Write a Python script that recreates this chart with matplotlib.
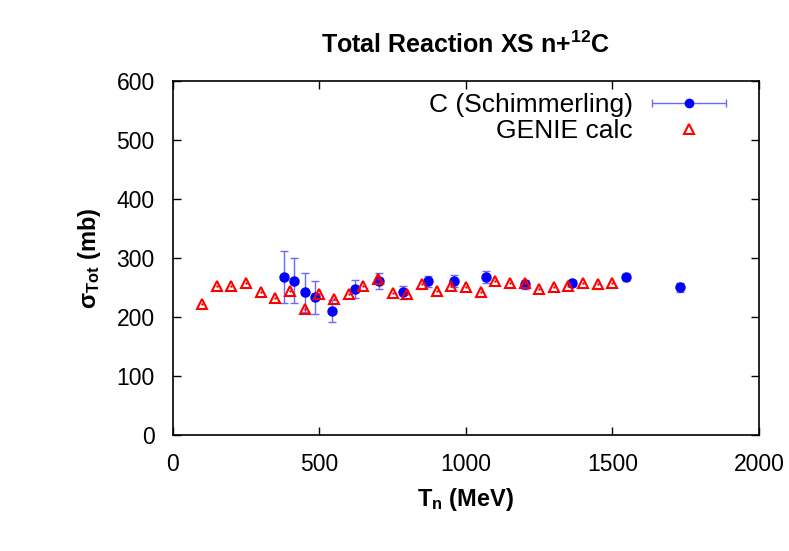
import numpy as np
import matplotlib
matplotlib.use('Agg')
from matplotlib import pyplot as plt
from matplotlib.legend_handler import HandlerErrorbar

plt.rcParams['font.family'] = ['Liberation Sans', 'DejaVu Sans']
plt.rcParams['mathtext.fontset'] = 'custom'
plt.rcParams['mathtext.rm'] = 'Liberation Sans'
plt.rcParams['mathtext.bf'] = 'Liberation Sans:bold'
plt.rcParams['mathtext.it'] = 'Liberation Sans:italic'

# Schimmerling data
data_T = [380, 414, 450, 486, 544, 623, 703, 786, 872, 958, 1069, 1200, 1361, 1545, 1730]
data_xs = [268, 261, 242, 233, 210, 247, 261, 242, 260, 261, 268, 255, 258, 268, 250]
data_err = [44, 38, 33, 28, 18, 15, 13, 11, 9, 10, 10, 8, 5, 5, 7]

# GENIE calculation
genie_T = [100, 150, 200, 250, 300, 350, 400, 450, 500, 550, 600, 650, 700, 750, 800,
           850, 900, 950, 1000, 1050, 1100, 1150, 1200, 1250, 1300, 1350, 1400, 1450, 1500]
genie_xs = [222, 253, 253, 257, 243, 232, 244, 213, 239, 231, 238, 252, 264, 241, 239,
            255, 244, 253, 251, 243, 261, 258, 257, 248, 251, 252, 258, 255, 258]

fig = plt.figure(figsize=(7.89, 5.51), dpi=100)
ax = fig.add_axes([0.219, 0.2105, 0.743, 0.643])

err_color = '#6a6aff'
ax.errorbar(data_T, data_xs, yerr=data_err, fmt='o', color='#0000ff', markersize=6.5,
            ecolor=err_color, elinewidth=1, capsize=3, capthick=1, zorder=3)
# dummy handle so the key shows a horizontal error bar like the original
h_data = ax.errorbar([np.nan], [np.nan], xerr=[1], fmt='o', color='#0000ff', markersize=6,
                     ecolor=err_color, elinewidth=1, capsize=3, capthick=1)

h_genie, = ax.plot(genie_T, genie_xs, linestyle='none', marker='^', markersize=7.5,
                   markerfacecolor='none', markeredgecolor='#ff0000', markeredgewidth=1.5,
                   zorder=4)
ax.plot(genie_T, genie_xs, linestyle='none', marker='.', markersize=1.5,
        color='#ff0000', zorder=4)

ax.set_xlim(0, 2000)
ax.set_ylim(0, 600)
ax.set_xticks([0, 500, 1000, 1500, 2000])
ax.set_yticks([0, 100, 200, 300, 400, 500, 600])
ax.tick_params(direction='in', length=6, width=1, top=True, right=True,
               labelsize=16.5, pad=13)
for s in ax.spines.values():
    s.set_linewidth(1.2)

ax.set_title('Total Reaction XS n+$^{\\mathbf{12}}$C', fontsize=18, fontweight='bold', pad=20)
ax.set_xlabel('T$_{\\mathbf{n}}$ (MeV)', fontsize=17, fontweight='bold', labelpad=7)
ax.set_ylabel('σ$_{\\mathbf{Tot}}$ (mb)', fontsize=17, fontweight='bold', labelpad=10)

ax.legend([h_data, h_genie], ['C (Schimmerling)', 'GENIE calc'],
          loc='upper right', bbox_to_anchor=(0.966, 0.995), frameon=False,
          markerfirst=False, fontsize=19, handlelength=3.0, handletextpad=0.63,
          labelspacing=0.08, borderpad=0.4, borderaxespad=0,
          handler_map={type(h_data): HandlerErrorbar(xerr_size=1.4)})

fig.savefig('out.png', dpi=100)
